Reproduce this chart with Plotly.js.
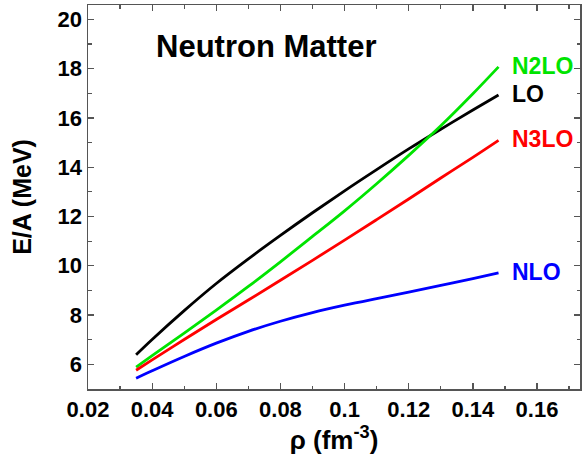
<!DOCTYPE html>
<html>
<head>
<meta charset="utf-8">
<script src="https://cdn.plot.ly/plotly-3.0.1.min.js"></script>
<style>html,body{margin:0;padding:0;background:#fff;}#chart{width:582px;height:461px;}</style>
</head>
<body>
<div id="chart"></div>
<script>
const rho  = [0.035, 0.04, 0.05, 0.06, 0.07, 0.08, 0.09, 0.10, 0.11, 0.12, 0.13, 0.14, 0.148];
const LO   = [6.39, 7.01, 8.18, 9.28, 10.28, 11.23, 12.15, 13.04, 13.90, 14.74, 15.54, 16.32, 16.93];
const NLO  = [5.44, 5.74, 6.32, 6.86, 7.34, 7.75, 8.10, 8.40, 8.67, 8.93, 9.20, 9.48, 9.71];
const N2LO = [5.89, 6.35, 7.27, 8.20, 9.16, 10.16, 11.19, 12.23, 13.33, 14.48, 15.68, 16.98, 18.07];
const N3LO = [5.76, 6.18, 7.01, 7.82, 8.61, 9.41, 10.22, 11.04, 11.87, 12.71, 13.56, 14.40, 15.09];
const seriesNames = ['LO', 'NLO', 'N2LO', 'N3LO'];
const seriesData = [LO, NLO, N2LO, N3LO];
const colors = ['#000000', '#0000ff', '#00e400', '#ff0000'];
const chartTitle = 'Neutron Matter';
const xTitle = 'ρ (fm<sup>-3</sup>)';
const yTitle = 'E/A (MeV)';

const FONT = 'Liberation Sans, Arial, Helvetica, sans-serif';

const traces = seriesData.map((d, i) => ({
  x: rho, y: d, type: 'scatter', mode: 'lines', name: seriesNames[i],
  line: {color: colors[i], width: 2.8, shape: 'spline', smoothing: 1},
  hoverinfo: 'skip'
}));

const labelX = 0.1516;
const annotations = seriesNames.map((n, i) => ({
  x: labelX, y: seriesData[i][seriesData[i].length - 1] + 0.05,
  xref: 'x', yref: 'y', text: n, showarrow: false,
  xanchor: 'left', yanchor: 'middle',
  font: {family: FONT, size: 23, weight: 'bold', color: colors[i]}
}));
annotations.push({
  x: 0.0405, y: 18.9, xref: 'x', yref: 'y', text: chartTitle, showarrow: false,
  xanchor: 'left', yanchor: 'middle',
  font: {family: FONT, size: 31, weight: 'bold', color: '#000'}
});

const axisCommon = {
  showline: true, linecolor: '#555', linewidth: 1.5, mirror: 'ticks',
  ticks: 'inside', ticklen: 6, tickwidth: 1.3, tickcolor: '#555',
  showgrid: false, zeroline: false,
  tickfont: {family: FONT, size: 22, weight: 'bold', color: '#000'}
};

const layout = {
  width: 582, height: 461,
  margin: {l: 88, r: 2, t: 5, b: 72},
  paper_bgcolor: '#fff', plot_bgcolor: '#fff',
  showlegend: false,
  xaxis: Object.assign({}, axisCommon, {
    range: [0.02, 0.1734], tickvals: [0.02, 0.04, 0.06, 0.08, 0.1, 0.12, 0.14, 0.16],
    ticktext: ['0.02', '0.04', '0.06', '0.08', '0.1', '0.12', '0.14', '0.16'],
    minor: {ticks: 'inside', ticklen: 3.5, tickwidth: 1.2, tickcolor: '#555', dtick: 0.01, tick0: 0.01},
    title: {text: xTitle, standoff: 8, font: {family: FONT, size: 26, weight: 'bold', color: '#000'}}
  }),
  yaxis: Object.assign({}, axisCommon, {
    range: [5.0, 20.58], tickvals: [6, 8, 10, 12, 14, 16, 18, 20],
    minor: {ticks: 'inside', ticklen: 3.5, tickwidth: 1.2, tickcolor: '#555', dtick: 1, tick0: 5},
    title: {text: yTitle, standoff: 19, font: {family: FONT, size: 25, weight: 'bold', color: '#000'}}
  }),
  annotations: annotations
};

Plotly.newPlot('chart', traces, layout, {staticPlot: true, displayModeBar: false});
</script>
</body>
</html>
